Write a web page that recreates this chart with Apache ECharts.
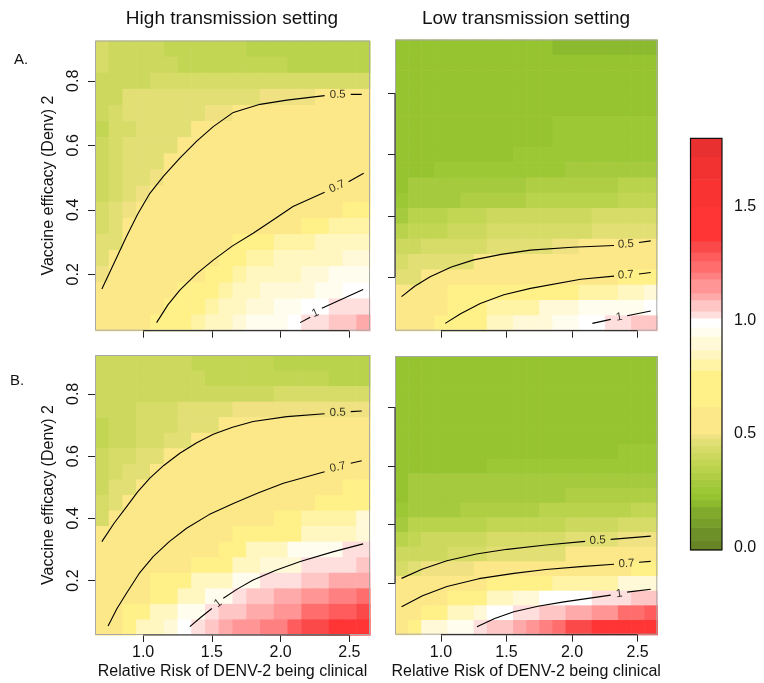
<!DOCTYPE html>
<html><head><meta charset="utf-8">
<script src="https://cdn.jsdelivr.net/npm/echarts@6/dist/echarts.min.js"></script>
<style>html,body{margin:0;padding:0;background:#fff}#c{width:764px;height:683px}</style>
</head><body><div id="c"></div>
<script>
// ---------- data ----------
const xValues = [0.7,0.8,0.9,1.0,1.1,1.2,1.3,1.4,1.5,1.6,1.7,1.8,1.9,2.0,2.1,2.2,2.3,2.4,2.5,2.6];
const yHigh = [0.9,0.85,0.8,0.75,0.7,0.65,0.6,0.55,0.5,0.45,0.4,0.35,0.3,0.25,0.2,0.15,0.1,0.05];
const yLow  = [0.95,0.9,0.85,0.8,0.75,0.7,0.65,0.6,0.55,0.5,0.45,0.4,0.35,0.3,0.25,0.2,0.15,0.1,0.05];
const xTicks = [1.0,1.5,2.0,2.5];
const yTicks = [0.2,0.4,0.6,0.8];
const barTicks = [0.0,0.5,1.0,1.5];

// A. high transmission (rows top -> bottom)
const highA = [
[.43,.40,.40,.40,.40,.37,.37,.37,.37,.37,.37,.35,.35,.35,.35,.35,.35,.35,.33,.33],
[.43,.40,.40,.40,.40,.40,.37,.37,.37,.37,.37,.37,.37,.37,.34,.34,.34,.34,.34,.34],
[.40,.40,.40,.40,.43,.43,.43,.43,.43,.43,.43,.43,.43,.43,.43,.43,.43,.43,.43,.43],
[.40,.40,.46,.46,.46,.46,.46,.46,.47,.47,.47,.47,.49,.49,.49,.49,.52,.52,.52,.52],
[.40,.43,.46,.46,.46,.46,.47,.47,.49,.49,.55,.55,.55,.55,.55,.55,.55,.55,.55,.55],
[.37,.43,.43,.46,.46,.47,.47,.55,.55,.55,.55,.55,.55,.55,.55,.55,.55,.55,.55,.55],
[.40,.43,.46,.46,.47,.47,.55,.55,.55,.55,.55,.55,.55,.55,.55,.55,.55,.55,.55,.55],
[.40,.43,.46,.47,.47,.55,.55,.55,.55,.55,.55,.55,.55,.55,.55,.55,.55,.55,.55,.55],
[.40,.43,.46,.47,.49,.55,.55,.55,.55,.55,.55,.55,.55,.55,.55,.55,.55,.55,.55,.55],
[.40,.43,.46,.49,.55,.55,.55,.55,.55,.55,.55,.55,.55,.55,.55,.55,.55,.55,.55,.55],
[.43,.46,.49,.55,.55,.55,.55,.55,.55,.55,.55,.55,.55,.55,.55,.55,.55,.55,.70,.70],
[.43,.46,.55,.55,.55,.55,.55,.55,.55,.55,.55,.55,.55,.55,.55,.70,.70,.80,.80,.80],
[.46,.47,.55,.55,.55,.55,.55,.55,.55,.55,.70,.70,.70,.80,.80,.80,.85,.85,.85,.85],
[.46,.55,.55,.55,.55,.55,.55,.55,.55,.70,.70,.80,.80,.85,.85,.85,.85,.85,.90,.90],
[.49,.55,.55,.55,.55,.55,.55,.55,.70,.70,.80,.85,.85,.85,.85,.90,.90,.95,.95,.95],
[.55,.55,.55,.55,.55,.55,.70,.70,.70,.80,.85,.85,.90,.90,.90,.90,.95,.95,.99,.99],
[.55,.55,.55,.55,.55,.70,.70,.70,.80,.85,.85,.90,.90,.95,.95,.97,.97,1.02,1.02,1.02],
[.55,.55,.55,.55,.70,.70,.70,.80,.85,.85,.90,.95,.95,.95,.99,1.02,1.02,1.06,1.06,1.10]
];
// A. low transmission
const lowA = [
[.22,.22,.22,.22,.22,.22,.22,.22,.22,.22,.22,.22,.20,.20,.20,.20,.20,.20,.20,.20],
[.22,.22,.22,.22,.22,.22,.22,.22,.22,.22,.22,.22,.22,.22,.22,.22,.22,.22,.22,.22],
[.22,.22,.22,.22,.22,.22,.22,.22,.22,.22,.22,.22,.22,.22,.22,.22,.22,.22,.22,.22],
[.22,.22,.22,.22,.22,.22,.22,.22,.22,.22,.22,.22,.22,.22,.22,.22,.22,.22,.22,.22],
[.22,.22,.22,.22,.22,.22,.22,.22,.22,.22,.22,.22,.22,.22,.22,.22,.22,.22,.22,.22],
[.22,.22,.22,.22,.22,.22,.22,.22,.22,.22,.22,.22,.24,.24,.24,.24,.24,.24,.24,.24],
[.22,.22,.22,.22,.22,.22,.22,.22,.22,.22,.22,.22,.24,.24,.24,.24,.24,.24,.24,.24],
[.22,.22,.22,.22,.22,.22,.22,.22,.22,.25,.25,.25,.25,.25,.25,.25,.25,.25,.25,.25],
[.22,.22,.22,.25,.25,.25,.25,.25,.25,.25,.25,.25,.25,.28,.28,.28,.28,.28,.28,.28],
[.22,.28,.28,.28,.28,.29,.29,.29,.29,.29,.31,.31,.31,.31,.31,.31,.31,.34,.34,.34],
[.25,.29,.29,.29,.29,.31,.31,.31,.31,.31,.34,.34,.34,.34,.34,.34,.34,.37,.37,.37],
[.28,.34,.34,.34,.37,.37,.37,.40,.40,.40,.40,.40,.40,.40,.40,.43,.43,.43,.43,.43],
[.34,.37,.37,.37,.40,.40,.40,.43,.43,.43,.43,.44,.44,.44,.44,.46,.46,.46,.46,.46],
[.40,.40,.43,.43,.43,.43,.43,.46,.46,.46,.46,.46,.49,.49,.52,.52,.52,.52,.52,.52],
[.43,.46,.47,.47,.47,.47,.55,.55,.55,.55,.55,.55,.55,.55,.55,.55,.55,.55,.55,.55],
[.46,.46,.55,.55,.55,.55,.55,.55,.55,.55,.55,.55,.55,.55,.55,.55,.55,.70,.70,.70],
[.55,.55,.55,.55,.70,.70,.70,.70,.70,.70,.70,.70,.70,.70,.80,.80,.80,.85,.85,.90],
[.55,.55,.55,.55,.70,.70,.70,.82,.82,.82,.82,.90,.90,.90,.95,.95,.95,.96,.96,.99],
[.55,.55,.55,.70,.70,.70,.70,.85,.85,.90,.90,.90,.95,.95,.99,.99,1.02,1.02,1.06,1.06]
];
// B. high transmission
const highB = [
[.40,.40,.40,.40,.40,.40,.40,.37,.37,.37,.37,.37,.37,.34,.34,.34,.34,.34,.34,.34],
[.40,.40,.40,.40,.40,.40,.40,.40,.37,.37,.37,.37,.37,.37,.37,.37,.37,.34,.34,.34],
[.40,.40,.40,.40,.40,.40,.40,.40,.40,.40,.40,.40,.40,.43,.43,.43,.43,.43,.43,.43],
[.40,.40,.40,.43,.43,.43,.46,.46,.46,.46,.49,.49,.49,.49,.49,.49,.49,.49,.49,.49],
[.37,.40,.40,.43,.43,.43,.46,.46,.46,.55,.55,.55,.55,.55,.55,.55,.55,.55,.55,.55],
[.37,.40,.40,.43,.43,.46,.46,.55,.55,.55,.55,.55,.55,.55,.55,.55,.55,.55,.55,.55],
[.40,.43,.43,.46,.46,.55,.55,.55,.55,.55,.55,.55,.55,.55,.55,.55,.55,.55,.55,.55],
[.40,.43,.46,.46,.55,.55,.55,.55,.55,.55,.55,.55,.55,.55,.55,.55,.55,.55,.55,.55],
[.40,.46,.46,.55,.55,.55,.55,.55,.55,.55,.55,.55,.55,.55,.55,.55,.55,.55,.70,.70],
[.43,.46,.55,.55,.55,.55,.55,.55,.55,.55,.55,.55,.55,.55,.55,.55,.70,.70,.70,.70],
[.43,.55,.55,.55,.55,.55,.55,.55,.55,.55,.55,.55,.55,.70,.70,.80,.80,.80,.80,.90],
[.55,.55,.55,.55,.55,.55,.55,.55,.55,.55,.70,.70,.70,.70,.70,.85,.85,.85,.85,.90],
[.55,.55,.55,.55,.55,.55,.55,.55,.55,.70,.70,.85,.85,.85,.95,.95,.95,.95,1.02,1.02],
[.55,.55,.55,.55,.55,.55,.55,.70,.70,.70,.85,.85,.90,.90,.90,1.02,1.02,1.03,1.03,1.06],
[.55,.55,.55,.55,.70,.70,.70,.85,.85,.85,.95,.95,1.02,1.03,1.03,1.06,1.06,1.10,1.10,1.10],
[.55,.55,.55,.55,.70,.70,.85,.85,.95,.95,1.02,1.06,1.06,1.10,1.10,1.15,1.15,1.19,1.19,1.23],
[.55,.55,.70,.70,.85,.85,.95,.95,1.02,1.06,1.06,1.10,1.10,1.15,1.15,1.23,1.23,1.28,1.28,1.32],
[.55,.55,.70,.85,.85,.90,.99,1.02,1.06,1.10,1.15,1.15,1.19,1.19,1.28,1.32,1.32,1.42,1.42,1.42]
];
// B. low transmission
const lowB = [
[.22,.22,.22,.22,.22,.22,.22,.22,.22,.22,.22,.22,.22,.22,.22,.22,.22,.22,.22,.22],
[.22,.22,.22,.22,.22,.22,.22,.22,.22,.22,.22,.22,.22,.22,.22,.22,.22,.22,.22,.22],
[.22,.22,.22,.22,.22,.22,.22,.22,.22,.22,.22,.22,.22,.22,.22,.22,.22,.22,.22,.22],
[.22,.22,.22,.22,.22,.22,.22,.22,.22,.22,.22,.22,.22,.22,.22,.22,.22,.22,.22,.22],
[.22,.22,.22,.22,.22,.22,.22,.22,.22,.22,.22,.22,.22,.22,.22,.22,.22,.22,.22,.22],
[.22,.22,.22,.22,.22,.22,.22,.22,.22,.22,.22,.22,.22,.22,.22,.22,.22,.22,.22,.22],
[.22,.22,.22,.22,.22,.22,.22,.22,.22,.22,.22,.22,.22,.22,.22,.22,.22,.24,.24,.24],
[.22,.22,.22,.22,.22,.22,.22,.25,.25,.25,.25,.25,.25,.25,.25,.25,.25,.25,.25,.25],
[.22,.27,.27,.27,.27,.27,.27,.27,.27,.27,.27,.27,.27,.29,.29,.29,.29,.29,.29,.29],
[.22,.28,.28,.28,.28,.29,.29,.29,.29,.29,.29,.29,.29,.31,.31,.31,.31,.31,.31,.31],
[.25,.29,.29,.29,.29,.31,.31,.31,.31,.31,.31,.34,.34,.34,.34,.34,.34,.34,.37,.37],
[.29,.34,.34,.34,.34,.34,.34,.37,.37,.37,.37,.37,.37,.40,.40,.40,.40,.43,.43,.43],
[.34,.37,.40,.40,.40,.40,.40,.43,.43,.43,.43,.43,.43,.46,.46,.46,.46,.49,.49,.49],
[.40,.40,.40,.40,.43,.43,.43,.46,.46,.46,.46,.46,.46,.55,.55,.55,.55,.55,.55,.55],
[.43,.46,.49,.49,.49,.49,.55,.55,.55,.55,.55,.55,.55,.55,.55,.55,.55,.55,.70,.70],
[.55,.55,.55,.55,.55,.55,.55,.70,.70,.70,.70,.70,.80,.80,.80,.80,.80,.90,.90,.90],
[.55,.55,.55,.55,.70,.70,.70,.85,.85,.90,.90,.99,.99,.99,.99,1.02,1.02,1.02,1.06,1.06],
[.55,.55,.70,.70,.85,.85,.90,.99,.99,1.02,1.02,1.06,1.06,1.10,1.10,1.15,1.15,1.23,1.23,1.28],
[.55,.70,.90,.90,.95,.95,1.02,1.06,1.06,1.10,1.15,1.19,1.23,1.32,1.32,1.37,1.37,1.37,1.42,1.42]
];

// contour lines: [level, segments, label point, label rotation]
const contoursHighA = [
  ['0.5', [[[0.70,0.154],[0.80,0.245],[0.879,0.317],[0.96,0.386],[1.049,0.451],[1.15,0.505],[1.267,0.56],[1.39,0.613],[1.51,0.658],[1.656,0.702],[1.85,0.727],[2.045,0.74],[2.32,0.754]], [[2.51,0.758],[2.59,0.758]]], [2.415,0.757], 1],
  ['0.7', [[[1.098,0.05],[1.18,0.105],[1.267,0.151],[1.39,0.202],[1.51,0.244],[1.65,0.288],[1.80,0.327],[1.95,0.37],[2.09,0.41],[2.32,0.454]], [[2.494,0.487],[2.604,0.513]]], [2.41,0.472], 24],
  ['1',   [[[2.142,0.05],[2.215,0.067]], [[2.30,0.095],[2.60,0.153]]], [2.252,0.08], 24]
];
const contoursLowA = [
  ['0.5', [[[0.70,0.136],[0.80,0.17],[0.918,0.201],[1.08,0.233],[1.25,0.256],[1.46,0.274],[1.683,0.288],[2.0,0.297],[2.32,0.303]], [[2.51,0.313],[2.60,0.318]]], [2.41,0.307], 2],
  ['0.7', [[[1.033,0.049],[1.15,0.08],[1.30,0.114],[1.48,0.142],[1.683,0.163],[2.066,0.193],[2.32,0.203]], [[2.51,0.21],[2.60,0.215]]], [2.41,0.207], 3],
  ['1',   [[[2.155,0.049],[2.295,0.062]], [[2.42,0.074],[2.60,0.089]]], [2.36,0.069], 9]
];
const contoursHighB = [
  ['0.5', [[[0.70,0.325],[0.79,0.385],[0.879,0.437],[0.96,0.485],[1.049,0.529],[1.15,0.57],[1.267,0.609],[1.39,0.643],[1.51,0.670],[1.65,0.693],[1.80,0.711],[2.045,0.727],[2.32,0.736]], [[2.51,0.743],[2.59,0.745]]], [2.415,0.74], 2],
  ['0.7', [[[0.745,0.054],[0.81,0.11],[0.879,0.159],[0.97,0.222],[1.073,0.277],[1.19,0.325],[1.316,0.368],[1.48,0.412],[1.656,0.448],[1.84,0.482],[2.02,0.513],[2.32,0.55]], [[2.51,0.577],[2.59,0.585]]], [2.415,0.564], 12],
  ['1',   [[[1.34,0.052],[1.42,0.082],[1.50,0.11]], [[1.583,0.143],[1.69,0.174],[1.80,0.202],[1.97,0.234],[2.143,0.261],[2.385,0.293],[2.60,0.318]]], [1.545,0.127], 38]
];
const contoursLowB = [
  ['0.5', [[[0.70,0.217],[0.86,0.249],[1.046,0.277],[1.27,0.3],[1.505,0.316],[1.8,0.331],[2.10,0.343]], [[2.295,0.35],[2.60,0.361]]], [2.195,0.346], 3],
  ['0.7', [[[0.70,0.12],[0.86,0.158],[1.046,0.189],[1.29,0.216],[1.556,0.234],[1.8,0.247],[2.066,0.257],[2.32,0.265]], [[2.51,0.272],[2.60,0.275]]], [2.415,0.267], 3],
  ['1',   [[[1.275,0.052],[1.41,0.08],[1.556,0.103],[1.74,0.122],[1.938,0.137],[2.295,0.16]], [[2.42,0.17],[2.60,0.18]]], [2.36,0.165], 8]
];

// colour scale (lower break, colour)
const palette = [
 [0.00,'#688526'],[0.03,'#6e9028'],[0.09,'#77a02a'],[0.13,'#80aa2c'],[0.18,'#8cba2f'],
 [0.21,'#96c431'],[0.24,'#9cc836'],[0.27,'#a5ca3d'],[0.30,'#afce44'],[0.33,'#b9d34c'],
 [0.36,'#c3d654'],[0.39,'#cdd95e'],[0.42,'#d6dc67'],[0.45,'#e2df74'],[0.48,'#f0e282'],
 [0.50,'#fce888'],[0.62,'#fff088'],[0.78,'#fff3a6'],[0.83,'#fff6c0'],[0.87,'#fff9d8'],
 [0.93,'#fffdee'],[0.97,'#ffffff'],[1.01,'#ffdede'],[1.04,'#ffc6c6'],[1.09,'#ffaaaa'],
 [1.12,'#ff9595'],[1.18,'#ff8080'],[1.21,'#ff6d6d'],[1.26,'#ff5d5d'],[1.30,'#fb4949'],
 [1.35,'#ff3434'],[1.50,'#f93232'],[1.62,'#f23131'],[1.72,'#e83030']
];
const barMin = -0.01, barMax = 1.8;

// ---------- build ----------
function colorFor(v){
  let c = palette[0][1];
  for (const p of palette){ if (v >= p[0] - 1e-9) c = p[1]; }
  return c;
}
const FONT = 'Liberation Sans, Arial, sans-serif';
const dx = xValues[1] - xValues[0];
const dy = yHigh[0] - yHigh[1];
const xMin = xValues[0] - dx/2, xMax = xValues[xValues.length-1] + dx/2;

const panels = [
  {grid: highA, ys: yHigh, contours: contoursHighA, box:{left:95, top:40.5, width:275, height:290.2}, xl:false, yl:true},
  {grid: lowA,  ys: yLow,  contours: contoursLowA,  box:{left:395, top:39.5, width:262.3, height:291.2}, xl:false, yl:false},
  {grid: highB, ys: yHigh, contours: contoursHighB, box:{left:95, top:355, width:275, height:280}, xl:true, yl:true},
  {grid: lowB,  ys: yLow,  contours: contoursLowB,  box:{left:395, top:356, width:262.3, height:278.7}, xl:true, yl:false}
];

const grids = [], xAxes = [], yAxes = [], series = [];
panels.forEach((p, i) => {
  const yMin = p.ys[p.ys.length-1] - dy/2, yMax = p.ys[0] + dy/2;
  grids.push(Object.assign({show:false}, p.box));
  xAxes.push({
    gridIndex:i, type:'value', min:xMin, max:xMax,
    axisLine:{show:false}, splitLine:{show:false},
    axisTick:{show:true, customValues:xTicks, length:7, lineStyle:{color:'#222'}},
    axisLabel:{show:p.xl, customValues:xTicks, formatter:v=>v.toFixed(1), fontSize:16, color:'#111', margin:10, fontFamily:FONT},
    name: p.xl ? 'Relative Risk of DENV-2 being clinical' : '',
    nameLocation:'middle', nameGap:29,
    nameTextStyle:{fontSize:16, color:'#111', fontFamily:FONT}
  });
  yAxes.push({
    gridIndex:i, type:'value', min:yMin, max:yMax,
    axisLine:{show:false}, splitLine:{show:false},
    axisTick:{show:true, customValues:yTicks, length:7, lineStyle:{color:'#222'}},
    axisLabel:{show:p.yl, customValues:yTicks, formatter:v=>v.toFixed(1), rotate:90, fontSize:16, color:'#111', margin:13, fontFamily:FONT},
    name: p.yl ? 'Vaccine efficacy (Denv) 2' : '',
    nameLocation:'middle', nameGap:38,
    nameTextStyle:{fontSize:16, color:'#111', fontFamily:FONT}
  });
  const cells = [];
  p.grid.forEach((row, r) => row.forEach((v, c) => cells.push([xValues[c], p.ys[r], v])));
  series.push({
    type:'custom', xAxisIndex:i, yAxisIndex:i, data:cells, silent:true, z:1,
    encode:{x:0, y:1},
    renderItem:(params, api) => {
      const x = api.value(0), y = api.value(1);
      const a = api.coord([x - dx/2, y + dy/2]);
      const b = api.coord([x + dx/2, y - dy/2]);
      return {type:'rect', shape:{x:a[0], y:a[1], width:b[0]-a[0]+0.6, height:b[1]-a[1]+0.6},
              style:{fill:colorFor(api.value(2))}};
    }
  });
  // frame
  series.push({
    type:'custom', xAxisIndex:i, yAxisIndex:i, data:[[xMin, yMin]], silent:true, z:3,
    renderItem:(params) => {
      const cs = params.coordSys;
      return {type:'rect', shape:{x:cs.x+0.5, y:cs.y+0.5, width:cs.width-1, height:cs.height-1},
              style:{fill:'none', stroke:'#a8a8a8', lineWidth:1}};
    }
  });
  // R style axis lines spanning first..last tick
  series.push({type:'line', xAxisIndex:i, yAxisIndex:i, silent:true, clip:false, z:6, symbol:'none',
    data:[[xTicks[0], yMin],[xTicks[xTicks.length-1], yMin]], lineStyle:{color:'#333', width:1.2}});
  if (!p.yl) {
    series.push({type:'line', xAxisIndex:i, yAxisIndex:i, silent:true, clip:false, z:6, symbol:'none',
      data:[[xMin, yTicks[0]],[xMin, yTicks[yTicks.length-1]]], lineStyle:{color:'#333', width:1.2}});
  }
  // contours
  p.contours.forEach(ct => {
    ct[1].forEach(seg => series.push({
      type:'line', xAxisIndex:i, yAxisIndex:i, data:seg, symbol:'none', smooth:false, silent:true, z:5,
      lineStyle:{color:'#000', width:1.1, join:'round'}
    }));
    series.push({
      type:'scatter', xAxisIndex:i, yAxisIndex:i, data:[ct[2]], symbolSize:1, silent:true, z:5,
      itemStyle:{color:'rgba(0,0,0,0)'},
      label:{show:true, position:'inside', formatter:ct[0], rotate:ct[3], fontSize:11.5, color:'#000', fontFamily:FONT}
    });
  });
});

// colour bar
const bi = panels.length;
grids.push({show:false, left:690.5, top:138.3, width:31.5, height:411.6});
xAxes.push({gridIndex:bi, type:'value', min:0, max:1, show:false});
yAxes.push({
  gridIndex:bi, type:'value', position:'right', min:barMin, max:barMax,
  axisLine:{show:false}, splitLine:{show:false},
  axisTick:{show:true, customValues:barTicks, length:6, lineStyle:{color:'#222'}},
  axisLabel:{customValues:barTicks, formatter:v=>v.toFixed(1), fontSize:16, color:'#111', margin:12, fontFamily:FONT}
});
series.push({
  type:'custom', xAxisIndex:bi, yAxisIndex:bi, silent:true, z:1,
  data: palette.map((p, k) => [p[0], k < palette.length-1 ? palette[k+1][0] : barMax, k]),
  renderItem:(params, api) => {
    const k = api.value(2);
    const lo = k === 0 ? barMin : api.value(0), hi = api.value(1);
    const a = api.coord([0, hi]), b = api.coord([1, lo]);
    return {type:'rect', shape:{x:a[0], y:a[1], width:b[0]-a[0], height:b[1]-a[1]+0.5},
            style:{fill:palette[k][1]}};
  }
});
series.push({
  type:'custom', xAxisIndex:bi, yAxisIndex:bi, data:[[0, 0]], silent:true, z:3,
  renderItem:(params) => {
    const cs = params.coordSys;
    return {type:'rect', shape:{x:cs.x, y:cs.y, width:cs.width, height:cs.height},
            style:{fill:'none', stroke:'#111', lineWidth:1.2}};
  }
});

const chart = echarts.init(document.getElementById('c'), null, {renderer:'canvas'});
chart.setOption({
  animation:false,
  backgroundColor:'#fff',
  grid:grids, xAxis:xAxes, yAxis:yAxes, series:series,
  graphic:[
    {type:'text', x:232, y:19, style:{text:'High transmission setting', fontSize:19, fontFamily:FONT, fill:'#111', align:'center', verticalAlign:'middle'}},
    {type:'text', x:526, y:19, style:{text:'Low transmission setting', fontSize:19, fontFamily:FONT, fill:'#111', align:'center', verticalAlign:'middle'}},
    {type:'text', x:14, y:60, style:{text:'A.', fontSize:15, fontFamily:FONT, fill:'#111', align:'left', verticalAlign:'middle'}},
    {type:'text', x:10, y:381, style:{text:'B.', fontSize:15, fontFamily:FONT, fill:'#111', align:'left', verticalAlign:'middle'}}
  ]
});
</script></body></html>
